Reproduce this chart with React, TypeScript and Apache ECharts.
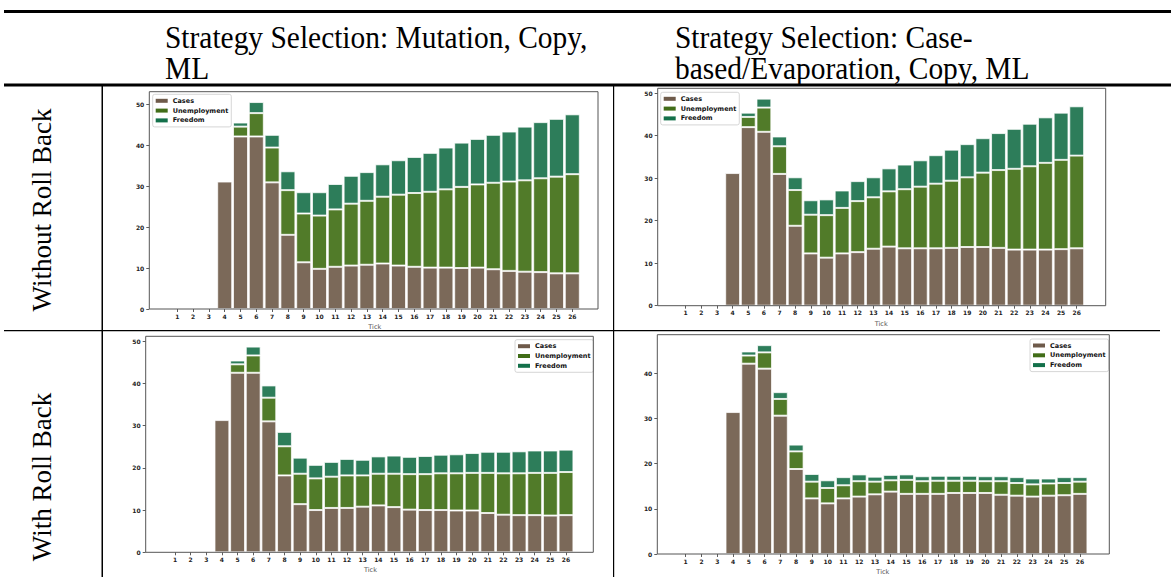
import React, { useEffect, useRef } from 'react';
import * as echarts from 'echarts';

const TICKS = ['1','2','3','4','5','6','7','8','9','10','11','12','13','14','15','16','17','18','19','20','21','22','23','24','25','26'];
const Y_TICKS = [0, 10, 20, 30, 40, 50];
const NAMES = ['Cases', 'Unemployment', 'Freedom'];

// Top-left: Without Roll Back, Mutation/Copy/ML
const TL_CASES = [0,0,0,31.1,42.1,42.1,30.9,18.1,11.4,9.8,10.3,10.6,10.8,11.1,10.6,10.3,10.1,10.1,10.0,10.1,9.7,9.3,9.1,9.0,8.7,8.7];
const TL_UNEMP = [0,0,0,0,2.4,5.7,8.5,10.9,11.9,13.0,14.0,15.1,15.6,16.3,17.3,18.0,18.5,19.1,19.8,20.3,21.1,21.8,22.3,22.9,23.6,24.2];
const TL_FREE = [0,0,0,0,1.0,2.7,3.1,4.6,5.2,5.7,6.2,6.8,7.0,7.9,8.4,8.8,9.5,10.2,10.8,11.1,11.7,12.2,13.1,13.7,14.1,14.6];

// Top-right: Without Roll Back, Case-based/Evaporation
const TR_CASES = [0,0,0,31.2,42.0,40.9,31.0,18.8,12.3,11.3,12.3,12.6,13.4,13.9,13.5,13.5,13.5,13.6,13.8,13.8,13.6,13.2,13.2,13.2,13.3,13.5];
const TR_UNEMP = [0,0,0,0,2.4,5.7,6.5,8.4,9.1,10.0,10.7,12.0,12.1,13.0,13.9,14.5,15.2,15.8,16.4,17.5,18.3,19.0,19.6,20.4,21.0,21.8];
const TR_FREE = [0,0,0,0,1.0,2.1,2.3,3.0,3.4,3.7,4.1,4.7,4.7,5.4,5.8,6.2,6.7,7.3,7.8,8.1,8.7,9.4,10.0,10.7,11.1,11.6];

// Bottom-left: With Roll Back, Mutation/Copy/ML
const BL_CASES = [0,0,0,31.3,42.5,42.5,31.0,18.2,11.4,10.0,10.5,10.5,10.8,11.1,10.7,10.1,10.0,10.0,9.9,9.9,9.3,8.9,8.8,8.8,8.7,8.8];
const BL_UNEMP = [0,0,0,0,2.0,4.1,5.6,6.9,7.2,7.5,7.4,7.7,7.4,7.5,7.9,8.4,8.5,8.7,8.8,8.9,9.5,9.8,9.9,10.0,10.1,10.2];
const BL_FREE = [0,0,0,0,0.9,2.1,2.9,3.4,3.8,3.2,3.5,3.9,3.7,4.1,4.3,4.1,4.3,4.4,4.5,4.7,5.0,5.1,5.2,5.3,5.3,5.3];

// Bottom-right: With Roll Back, Case-based/Evaporation
const BR_CASES = [0,0,0,31.4,42.1,41.0,30.6,18.8,12.3,11.2,12.3,12.7,13.2,13.8,13.3,13.3,13.3,13.5,13.5,13.5,13.1,12.9,12.7,12.9,13.0,13.3];
const BR_UNEMP = [0,0,0,0,1.8,3.6,3.7,3.9,3.7,3.4,2.9,3.4,2.8,2.5,3.1,2.8,2.9,2.7,2.7,2.6,3.0,2.8,2.7,2.7,2.7,2.7];
const BR_FREE = [0,0,0,0,0.9,1.6,1.5,1.5,1.7,1.7,1.8,1.5,1.1,1.2,1.2,1.1,1.1,1.1,1.1,1.1,1.1,1.3,1.3,1.1,1.3,1.0];

const HEADER_LEFT = ['Strategy Selection: Mutation, Copy,', 'ML'];
const HEADER_RIGHT = ['Strategy Selection: Case-', 'based/Evaporation, Copy, ML'];
const ROW_LABELS = ['Without Roll Back', 'With Roll Back'];

const BAR_COLORS = ['#7b6959', '#517b29', '#2d7d5a'];
const LEGEND_COLORS = ['#6e5a4a', '#416d18', '#13704a'];

const PANELS = [
  { data: [TL_CASES, TL_UNEMP, TL_FREE], box: { l: 149.3, r: 598, t: 91.7, b: 309 }, tick1: 177.3, step: 15.8, legend: { l: 152.7, t: 94.3 } },
  { data: [TR_CASES, TR_UNEMP, TR_FREE], box: { l: 657.7, r: 1105.7, t: 88.3, b: 305.7 }, tick1: 685.7, step: 15.64, legend: { l: 660.7, t: 92.3 } },
  { data: [BL_CASES, BL_UNEMP, BL_FREE], box: { l: 145.7, r: 593.3, t: 336.3, b: 552.3 }, tick1: 175, step: 15.64, legend: { l: 515, t: 339.7 } },
  { data: [BR_CASES, BR_UNEMP, BR_FREE], box: { l: 657.3, r: 1109.3, t: 334.7, b: 554 }, tick1: 685.7, step: 15.77, legend: { l: 1030, t: 339 } },
];

export default function App() {
  const ref = useRef<HTMLDivElement>(null);
  useEffect(() => {
    const chart = echarts.init(ref.current!, null, { renderer: 'svg' });
    const grid: any[] = [];
    const xAxis: any[] = [];
    const yAxis: any[] = [];
    const series: any[] = [];
    const legend: any[] = [];
    const graphic: any[] = [];

    PANELS.forEach((p, i) => {
      const gl = p.tick1 - p.step / 2;
      const gw = p.step * TICKS.length;
      const totals = p.data[0].map((c, k) => c + p.data[1][k] + p.data[2][k]);
      const ymax = Math.max(...totals) * 1.05;
      const yt = Y_TICKS.filter((v) => v <= ymax);
      grid.push({ left: gl, top: p.box.t, width: gw, height: p.box.b - p.box.t });
      xAxis.push({
        type: 'category', gridIndex: i, data: TICKS,
        axisLine: { show: false },
        axisTick: { show: true, alignWithLabel: true, length: 3, lineStyle: { color: '#333', width: 0.8 } },
        axisLabel: { fontSize: 6, fontWeight: 'bold', color: '#222', margin: 4, interval: 0, fontFamily: 'DejaVu Sans' },
        name: 'Tick', nameLocation: 'middle', nameGap: 14.5,
        nameTextStyle: { fontSize: 6.5, color: '#555', fontFamily: 'DejaVu Sans' },
        splitLine: { show: false },
      });
      yAxis.push({
        type: 'value', gridIndex: i, min: 0, max: ymax, offset: gl - p.box.l,
        axisLine: { show: false },
        axisTick: { show: true, length: 3, customValues: yt, lineStyle: { color: '#333', width: 0.8 } },
        axisLabel: { fontSize: 6, fontWeight: 'bold', color: '#222', margin: 5, customValues: yt, fontFamily: 'DejaVu Sans' },
        splitLine: { show: false },
      });
      NAMES.forEach((n, s) => {
        series.push({
          type: 'bar', name: n, xAxisIndex: i, yAxisIndex: i, stack: 'p' + i,
          barCategoryGap: '5%',
          data: p.data[s].map((v) => (v === 0 ? null : v)),
          itemStyle: { color: BAR_COLORS[s], borderColor: 'rgba(255,255,255,0.75)', borderWidth: 1 },
        });
      });
      legend.push({
        orient: 'vertical', left: p.legend.l, top: p.legend.t,
        data: NAMES.map((n, s) => ({ name: n, itemStyle: { color: LEGEND_COLORS[s], borderWidth: 0 } })),
        icon: 'rect', itemWidth: 12, itemHeight: 4, itemGap: 2.8,
        textStyle: { fontSize: 6.5, fontWeight: 'bold', color: '#111', lineHeight: 6.5, fontFamily: 'DejaVu Sans' },
        borderColor: '#cccccc', borderWidth: 0.8, borderRadius: 2, padding: [3, 3, 3, 3],
        backgroundColor: '#fff', selectedMode: false,
      });
      graphic.push({
        type: 'rect', z: 50, silent: true,
        shape: { x: p.box.l, y: p.box.t, width: p.box.r - p.box.l, height: p.box.b - p.box.t },
        style: { fill: 'none', stroke: '#555', lineWidth: 1 },
      });
    });

    // Table rules
    const rules = [
      { x: 4, y: 10, width: 1167, height: 3 },
      { x: 4, y: 83.5, width: 1167, height: 3 },
      { x: 101.5, y: 86, width: 1.5, height: 491 },
      { x: 613, y: 86, width: 1.2, height: 491 },
      { x: 4, y: 330, width: 1156, height: 1.2 },
    ];
    rules.forEach((r) => graphic.push({ type: 'rect', z: 60, silent: true, shape: r, style: { fill: '#000' } }));

    const serif = '"Liberation Serif", "Times New Roman", serif';
    HEADER_LEFT.forEach((t, k) => graphic.push({
      type: 'text', z: 60, x: 165, y: 37.5 + k * 31, scaleX: 0.95,
      style: { text: t, font: `31px ${serif}`, fill: '#000', align: 'left', verticalAlign: 'middle' },
    }));
    HEADER_RIGHT.forEach((t, k) => graphic.push({
      type: 'text', z: 60, x: 675, y: 37.5 + k * 31, scaleX: 0.95,
      style: { text: t, font: `31px ${serif}`, fill: '#000', align: 'left', verticalAlign: 'middle' },
    }));
    const rowY = [210, 477];
    ROW_LABELS.forEach((t, k) => graphic.push({
      type: 'text', z: 60, x: 42, y: rowY[k], rotation: Math.PI / 2,
      style: { text: t, font: `27px ${serif}`, fill: '#000', align: 'center', verticalAlign: 'middle' },
    }));

    chart.setOption({
      animation: false,
      backgroundColor: '#fff',
      grid, xAxis, yAxis, series, legend, graphic,
    });
    return () => chart.dispose();
  }, []);
  return <div ref={ref} style={{ position: 'absolute', left: 0, top: 0, width: 1171, height: 577, background: '#fff' }} />;
}
